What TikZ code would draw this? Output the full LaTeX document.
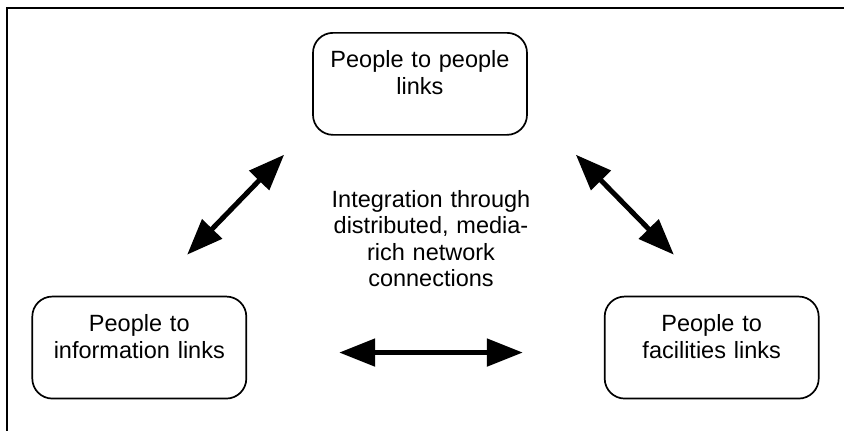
\documentclass[tikz,border=0pt]{standalone}
\usepackage{fontspec}
\setmainfont{Liberation Sans}
\usepackage{tikz}
\usetikzlibrary{shapes,arrows.meta,positioning}
\tikzstyle{linkbox} = [rectangle, draw, line width=1.7pt, rounded corners=20pt, text width=190pt, inner xsep=12pt, inner ysep=0pt, text height=35pt, text depth=67pt, text centered, font=\fontsize{23.5}{27}\selectfont]
\tikzstyle{note} = [text width=230pt, text centered, font=\fontsize{23.5}{26.5}\selectfont]
\tikzstyle{link} = [draw, line width=5pt, {Triangle[length=36pt,width=27pt]}-{Triangle[length=36pt,width=27pt]}]
\tikzstyle{frame} = [draw, line width=2pt]

\begin{document}
\begin{tikzpicture}[x=1pt, y=-1pt]
    \useasboundingbox (0,0) rectangle (844,431);
    \path [frame] (6.5,431) -- (6.5,8) -- (844,8);

    \node [linkbox, anchor=north] (people) at (420,32) {People to people\\links};
    \node [linkbox, below left=160pt and 65pt of people] (info) {People to\\information links};
    \node [linkbox, below right=160pt and 76pt of people] (facil) {People to\\facilities links};
    \node [note, anchor=base] (integ) at (431,207) {Integration through\\distributed, media-\\rich network\\connections};

    \path [link] ([shift={(-28,19)}]people.south west) -- ([shift={(-60,-41)}]info.north east);
    \path [link] ([shift={(48,19)}]people.south east) -- ([shift={(70,-41)}]facil.north west);
    \path [link] ([shift={(92,5)}]info.east) -- ([shift={(-81,5)}]facil.west);
\end{tikzpicture}
\end{document}
